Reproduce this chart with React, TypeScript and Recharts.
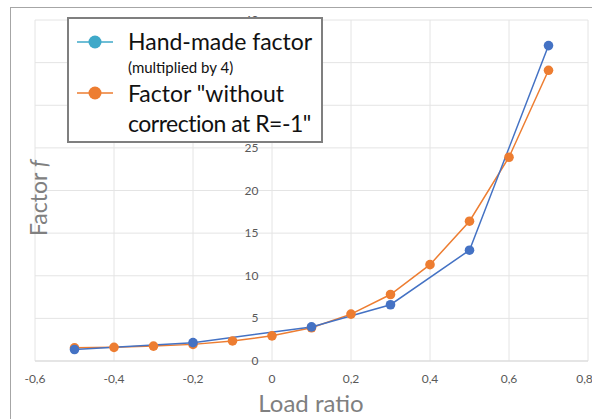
import React from 'react';
import { LineChart, Line, XAxis, YAxis, CartesianGrid } from 'recharts';

// load ratio ticks and factor ticks
const X_TICKS = [-0.6, -0.4, -0.2, 0, 0.2, 0.4, 0.6, 0.8];
const Y_TICKS = [0, 5, 10, 15, 20, 25, 30, 35, 40];

// hand-made factor (multiplied by 4)
const HAND_R = [-0.5, -0.2, 0.1, 0.3, 0.5, 0.7];
const HAND_F = [1.35, 2.15, 4.0, 6.6, 13.0, 37.0];

// factor "without correction at R=-1"
const NOCORR_R = [-0.5, -0.4, -0.3, -0.2, -0.1, 0, 0.1, 0.2, 0.3, 0.4, 0.5, 0.6, 0.7];
const NOCORR_F = [1.55, 1.6, 1.75, 1.95, 2.35, 2.95, 3.9, 5.5, 7.8, 11.3, 16.4, 23.9, 34.1];

const handData = HAND_R.map((x, i) => ({ x, y: HAND_F[i] }));
const noCorrData = NOCORR_R.map((x, i) => ({ x, y: NOCORR_F[i] }));

const BLUE = '#4472C4';
const ORANGE = '#ED7D31';
const FONT = 'Lato, "Open Sans", sans-serif';

const W = 592;
const H = 419;
const M = { top: 20, right: 4, left: 34, bottom: 28 };
const X_AXIS_H = 30;
const PLOT_W = W - M.left - M.right;
const Y_TITLE_Y = 198;
// pixel of R = 0, where the value axis sits
const X0 = M.left + ((0 - X_TICKS[0]) / (X_TICKS[X_TICKS.length - 1] - X_TICKS[0])) * PLOT_W;

const fmt = (v: number) => String(Math.round(v * 10) / 10).replace('.', ',');

function YTick(props: any) {
  const { y, payload } = props;
  return (
    <text x={X0 - 13} y={y} dy={4} textAnchor="end" fill="#595959" fontSize={12} fontFamily={FONT}>
      {payload.value}
    </text>
  );
}

function LegendBox() {
  const marker = (color: string) => (
    <svg width={38} height={16} style={{ display: 'block' }}>
      <line x1={0} y1={8} x2={36} y2={8} stroke={color} strokeWidth={1.5} />
      <circle cx={18} cy={8} r={6.5} fill={color} />
    </svg>
  );
  return (
    <div
      style={{
        position: 'absolute',
        left: 67,
        top: 17,
        width: 252,
        height: 122,
        border: '2px solid #7f7f7f',
        background: '#fff',
        fontFamily: FONT,
        color: '#111',
      }}
    >
      <div style={{ position: 'absolute', left: 8, top: 15 }}>{marker('#3FA9C9')}</div>
      <div style={{ position: 'absolute', left: 59, top: 8, fontSize: 23, lineHeight: '28px', whiteSpace: 'nowrap' }}>
        Hand-made factor
      </div>
      <div style={{ position: 'absolute', left: 59, top: 39, fontSize: 15, lineHeight: '18px', whiteSpace: 'nowrap' }}>
        (multiplied by 4)
      </div>
      <div style={{ position: 'absolute', left: 8, top: 66 }}>{marker(ORANGE)}</div>
      <div style={{ position: 'absolute', left: 59, top: 59, fontSize: 23, lineHeight: '30px', whiteSpace: 'nowrap' }}>
        Factor "without
        <br />
        <span style={{ letterSpacing: -0.5 }}>correction at R=-1"</span>
      </div>
    </div>
  );
}

export default function App() {
  return (
    <div style={{ position: 'absolute', left: 0, top: 0, width: W, height: H, overflow: 'hidden', background: '#fff' }}>
      <div
        style={{
          position: 'absolute',
          left: 10,
          top: 7,
          width: 620,
          height: 440,
          border: '1.5px solid #a6a6a6',
          boxSizing: 'border-box',
        }}
      />
      <div style={{ position: 'absolute', left: 0, top: 0 }}>
        <LineChart width={W} height={H} margin={M}>
          <CartesianGrid stroke="#e4e4e4" />
          <XAxis
            type="number"
            dataKey="x"
            domain={[X_TICKS[0], X_TICKS[X_TICKS.length - 1]]}
            ticks={X_TICKS}
            tickFormatter={fmt}
            allowDataOverflow
            height={X_AXIS_H}
            tickLine={false}
            axisLine={{ stroke: '#d9d9d9' }}
            tickMargin={7}
            tick={{ fill: '#595959', fontSize: 12, fontFamily: FONT }}
          />
          <YAxis
            type="number"
            domain={[0, 40]}
            ticks={Y_TICKS}
            width={1}
            interval={0}
            axisLine={false}
            tickLine={false}
            tick={(p: any) => <YTick {...p} />}
          />
          <Line
            data={noCorrData}
            dataKey="y"
            name='Factor "without correction at R=-1"'
            stroke={ORANGE}
            strokeWidth={1.5}
            dot={{ r: 4.8, fill: ORANGE, stroke: ORANGE, strokeWidth: 0 }}
            isAnimationActive={false}
          />
          <Line
            data={handData}
            dataKey="y"
            name="Hand-made factor"
            stroke={BLUE}
            strokeWidth={1.5}
            dot={{ r: 4.8, fill: BLUE, stroke: BLUE, strokeWidth: 0 }}
            isAnimationActive={false}
          />
          <text
            x={38}
            y={Y_TITLE_Y}
            transform={`rotate(-90 38 ${Y_TITLE_Y})`}
            textAnchor="middle"
            dominantBaseline="central"
            fill="#808080"
            fontSize={23}
            fontFamily={FONT}
          >
            Factor <tspan fontStyle="italic">f</tspan>
          </text>
          <text x={(M.left + W - M.right) / 2} y={412} textAnchor="middle" fill="#808080" fontSize={24} fontFamily={FONT}>
            Load ratio
          </text>
        </LineChart>
      </div>
      <LegendBox />
    </div>
  );
}
